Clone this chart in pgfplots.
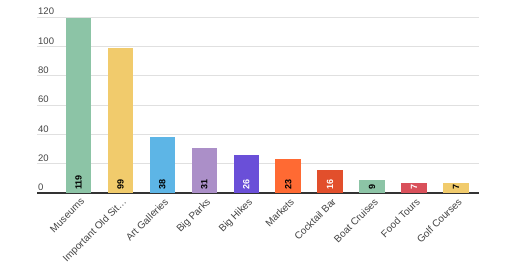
\documentclass[border=0pt]{standalone}
\usepackage{pgfplots}
\pgfplotsset{compat=1.18}
\usepackage{fontspec}
\setmainfont{Liberation Sans}
\definecolor{cgreen}{HTML}{8CC4A6}
\definecolor{cyellow}{HTML}{F1CB6C}
\definecolor{cblue}{HTML}{5DB5E6}
\definecolor{cpurple}{HTML}{AB8FC8}
\definecolor{cviolet}{HTML}{6A4FD8}
\definecolor{corange}{HTML}{FF6A33}
\definecolor{cred}{HTML}{E24F2C}
\definecolor{cfood}{HTML}{D9505A}
\definecolor{ctext}{HTML}{444444}
\definecolor{cgrid}{HTML}{E0E0E0}
\definecolor{cbase}{HTML}{333333}
\begin{document}
\begin{tikzpicture}[x=1pt,y=1pt]
\useasboundingbox (0,0) rectangle (520,272);
\begin{axis}[
  at={(37pt,79pt)}, anchor=south west,
  scale only axis, width=442pt, height=176pt,
  xmin=-0.99, xmax=9.55, ymin=0, ymax=120,
  ybar, bar width=25.5pt,
  axis x line*=bottom, axis y line*=left,
  x axis line style={draw=cbase, line width=1.3pt},
  y axis line style={draw=none},
  major tick length=0pt,
  ymajorgrids, grid style={cgrid, line width=0.8pt},
  ytick={0,20,40,60,80,100,120},
  yticklabel style={anchor=south west, inner sep=1pt, xshift=0pt, yshift=1pt, font=\fontsize{9.5}{11}\selectfont, text=ctext},
  /pgf/number format/assume math mode=true,
  xtick={0,...,9},
  xticklabels={Museums, Important Old Sit…, Art Galleries, Big Parks, Big Hikes, Markets, Cocktail Bar, Boat Cruises, Food Tours, Golf Courses},
  xticklabel style={rotate=45, anchor=north east, inner sep=1pt, xshift=-1pt, yshift=-3pt, font=\fontsize{10}{12}\selectfont, text=ctext},
  clip=false,
]
\addplot[fill=cgreen, draw=none, bar shift=0pt] coordinates {(0,119)};
\addplot[fill=cyellow, draw=none, bar shift=0pt] coordinates {(1,99)};
\addplot[fill=cblue, draw=none, bar shift=0pt] coordinates {(2,38)};
\addplot[fill=cpurple, draw=none, bar shift=0pt] coordinates {(3,31)};
\addplot[fill=cviolet, draw=none, bar shift=0pt] coordinates {(4,26)};
\addplot[fill=corange, draw=none, bar shift=0pt] coordinates {(5,23)};
\addplot[fill=cred, draw=none, bar shift=0pt] coordinates {(6,16)};
\addplot[fill=cgreen, draw=none, bar shift=0pt] coordinates {(7,9)};
\addplot[fill=cfood, draw=none, bar shift=0pt] coordinates {(8,7)};
\addplot[fill=cyellow, draw=none, bar shift=0pt] coordinates {(9,7)};
% value labels
\addplot[sharp plot, draw=none, mark=none, bar shift=0pt, point meta=explicit,
  nodes near coords,
  nodes near coords style={rotate=90, anchor=west, inner sep=3pt, font=\bfseries\fontsize{9}{10}\selectfont, text=black}]
  coordinates {(0,0) [119] (1,0) [99] (2,0) [38] (3,0) [31] (5,0) [23] (7,0) [9] (9,0) [7]};
\addplot[sharp plot, draw=none, mark=none, bar shift=0pt, point meta=explicit,
  nodes near coords,
  nodes near coords style={rotate=90, anchor=west, inner sep=3pt, font=\bfseries\fontsize{9}{10}\selectfont, text=white}]
  coordinates {(4,0) [26] (6,0) [16] (8,0) [7]};
\end{axis}
\end{tikzpicture}
\end{document}
